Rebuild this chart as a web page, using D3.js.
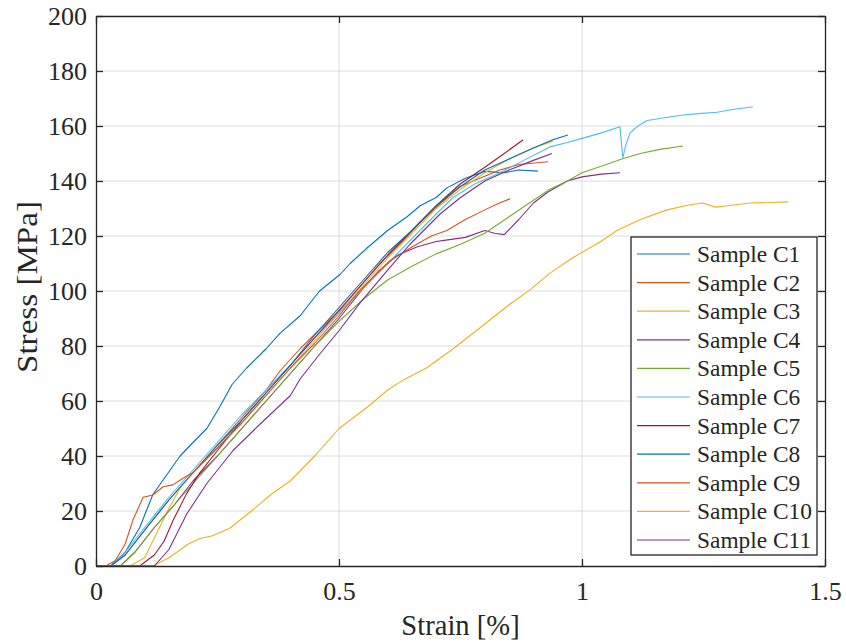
<!DOCTYPE html>
<html>
<head>
<meta charset="utf-8">
<script src="https://cdn.jsdelivr.net/npm/d3@7"></script>
<style>
html,body{margin:0;padding:0;background:#fff;}
svg{display:block;}
svg text{font-family:"Liberation Serif","Times New Roman",Times,"DejaVu Serif",serif;}
</style>
</head>
<body>
<svg id="chart" width="846" height="642"></svg>
<script>
// ---- Data (strain [%], stress [MPa]) ----
const seriesNames = ["Sample C1","Sample C2","Sample C3","Sample C4","Sample C5","Sample C6","Sample C7","Sample C8","Sample C9","Sample C10","Sample C11"];
const seriesColors = ["#0072BD","#D95319","#EDB120","#7E2F8E","#77AC30","#4DBEEE","#A2142F","#0072BD","#D95319","#EDB120","#7E2F8E"];

const c1 = [[0,0],[0.03,0],[0.06,5],[0.09,14],[0.117,26],[0.145,33],[0.173,40],[0.2,45],[0.228,50],[0.255,58],[0.28,66],[0.31,72],[0.35,79],[0.379,84.7],[0.42,91],[0.46,100],[0.502,106],[0.523,110],[0.56,116],[0.6,122],[0.64,127],[0.667,131],[0.7,134],[0.722,137.5],[0.76,141],[0.8,143.5],[0.84,143],[0.87,144],[0.909,143.6]];
const c2 = [[0,0],[0.03,0],[0.06,4],[0.1,13],[0.15,24],[0.2,34],[0.25,44],[0.3,54],[0.35,64],[0.379,71],[0.42,79],[0.46,86],[0.502,93],[0.55,103],[0.584,110],[0.63,118],[0.667,125],[0.71,132],[0.749,138],[0.79,141],[0.831,144],[0.87,146],[0.93,147]];
const c3 = [[0,0],[0.07,0],[0.1,3],[0.125,12],[0.15,21],[0.175,29],[0.2,34],[0.25,43],[0.3,52],[0.35,62],[0.4,72],[0.45,82],[0.5,92],[0.55,102],[0.6,112],[0.65,121],[0.7,130],[0.75,137],[0.8,143],[0.85,148],[0.9,152],[0.94,154.5]];
const c4 = [[0,0],[0.05,0],[0.08,5],[0.12,14],[0.16,22],[0.2,31],[0.25,40],[0.3,50],[0.35,60],[0.4,70],[0.45,80],[0.5,90],[0.55,101],[0.58,107],[0.62,113],[0.66,116],[0.7,118],[0.72,118.5],[0.76,119.5],[0.8,122],[0.82,121],[0.84,120.5],[0.87,126],[0.9,132],[0.93,136],[0.97,140],[1.0,141.5],[1.04,142.5],[1.078,143]];
const c5 = [[0,0],[0.05,0],[0.08,5],[0.12,14],[0.16,22],[0.2,30],[0.25,40],[0.3,50],[0.35,60],[0.4,70],[0.45,80],[0.5,89],[0.55,97],[0.6,104],[0.65,109],[0.7,113.5],[0.75,117],[0.8,121],[0.85,127],[0.9,133],[0.934,137],[0.97,140],[1.0,143],[1.05,146],[1.082,148],[1.12,150],[1.16,151.5],[1.208,152.7]];
const c6 = [[0,0],[0.03,0],[0.06,5],[0.1,14],[0.15,25],[0.2,35],[0.25,45],[0.3,55],[0.35,64],[0.4,73],[0.45,83],[0.5,92],[0.55,101],[0.6,110],[0.653,119.6],[0.7,128],[0.735,134],[0.78,139],[0.831,143],[0.88,147.5],[0.934,152.4],[0.97,154],[1.002,155.6],[1.04,157.5],[1.078,159.7],[1.081,154],[1.084,148.4],[1.09,153],[1.099,157.5],[1.115,160],[1.134,162],[1.17,163],[1.208,164],[1.24,164.5],[1.278,165],[1.31,166],[1.352,167]];
const c7 = [[0,0],[0.09,0],[0.12,4],[0.14,9],[0.159,16.7],[0.187,26.5],[0.214,34],[0.25,42],[0.3,53],[0.35,63],[0.4,73],[0.45,83],[0.5,93],[0.55,103],[0.6,113],[0.65,122],[0.7,131],[0.75,139],[0.8,145],[0.84,150],[0.879,155]];
const c8 = [[0,0],[0.03,0],[0.06,4],[0.1,13],[0.15,24],[0.2,34],[0.25,44],[0.3,53],[0.35,63],[0.4,73],[0.45,84],[0.5,94],[0.55,104],[0.6,114],[0.65,122],[0.7,131],[0.75,138],[0.8,144],[0.85,148],[0.9,152],[0.94,155],[0.971,156.7]];
const c9 = [[0,0],[0.02,0],[0.04,2],[0.06,8],[0.076,16.7],[0.097,25],[0.117,25.8],[0.138,28.8],[0.158,29.5],[0.18,32],[0.2,34],[0.25,43],[0.3,52],[0.35,62],[0.4,72],[0.45,81],[0.5,91],[0.537,99],[0.57,105],[0.605,111],[0.65,116],[0.69,120],[0.722,122],[0.76,126],[0.8,129.5],[0.83,132],[0.852,133.5]];
const c10 = [[0,0],[0.117,0],[0.15,3],[0.19,8],[0.214,10],[0.24,11],[0.276,13.8],[0.32,20],[0.36,26],[0.4,31],[0.45,40],[0.5,50],[0.56,58],[0.6,64],[0.632,67.6],[0.68,72],[0.735,79],[0.8,88],[0.85,95],[0.893,100.4],[0.934,106.5],[0.98,112],[1.037,117.8],[1.072,122],[1.12,126],[1.175,129.5],[1.22,131.3],[1.249,132],[1.274,130.5],[1.3,131],[1.346,132],[1.39,132.2],[1.424,132.4]];
const c11 = [[0,0],[0.12,0],[0.15,6],[0.187,19],[0.228,30],[0.282,42],[0.34,52],[0.4,62],[0.42,68],[0.46,77],[0.502,86],[0.543,95.6],[0.6,107.6],[0.646,117],[0.708,128],[0.75,134],[0.8,140],[0.85,144],[0.9,147.5],[0.938,150]];

const xTicks = [0, 0.5, 1, 1.5];
const xTickLabels = ["0", "0.5", "1", "1.5"];
const yTicks = [0,20,40,60,80,100,120,140,160,180,200];
const xLabel = "Strain [%]";
const yLabel = "Stress [MPa]";

const allSeries = [c1,c2,c3,c4,c5,c6,c7,c8,c9,c10,c11];

// ---- Layout ----
const svg = d3.select("#chart");
const L = 96, R = 825, T = 16, B = 566;
const axisColor = "#262626";
const font = '"Liberation Serif","Times New Roman",Times,"DejaVu Serif",serif';

const x = d3.scaleLinear().domain([0,1.5]).range([L,R]);
const y = d3.scaleLinear().domain([0,200]).range([B,T]);

// grid
const grid = svg.append("g");
grid.selectAll("line.gx").data(xTicks.slice(1,-1)).enter().append("line")
  .attr("x1", d=>x(d)).attr("x2", d=>x(d)).attr("y1", T).attr("y2", B)
  .attr("stroke", "#dcdcdc").attr("stroke-width", 1);
grid.selectAll("line.gy").data(yTicks.slice(1,-1)).enter().append("line")
  .attr("y1", d=>y(d)).attr("y2", d=>y(d)).attr("x1", L).attr("x2", R)
  .attr("stroke", "#dcdcdc").attr("stroke-width", 1);

// lines
const line = d3.line().x(d=>x(d[0])).y(d=>y(d[1]));
const clip = svg.append("clipPath").attr("id","clip").append("rect")
  .attr("x",L).attr("y",T).attr("width",R-L).attr("height",B-T);
const lines = svg.append("g").attr("clip-path","url(#clip)");
allSeries.forEach((s,i)=>{
  lines.append("path").datum(s).attr("d", line)
    .attr("fill","none").attr("stroke", seriesColors[i])
    .attr("stroke-width", 1.1).attr("stroke-linejoin","round");
});

// axes with d3 axis generators (ticks inward)
const xAxisB = d3.axisBottom(x).tickValues(xTicks).tickFormat((d,i)=>xTickLabels[i]).tickSizeInner(-7).tickSizeOuter(0).tickPadding(16);
const yAxisL = d3.axisLeft(y).tickValues(yTicks).tickSizeInner(-7).tickSizeOuter(0).tickPadding(9);
const xAxisT = d3.axisTop(x).tickValues(xTicks).tickFormat("").tickSizeInner(-7).tickSizeOuter(0);
const yAxisR = d3.axisRight(y).tickValues(yTicks).tickFormat("").tickSizeInner(-7).tickSizeOuter(0);

function styleAxis(g){
  g.attr("font-family", font).attr("font-size", 26);
  g.select(".domain").attr("stroke", axisColor).attr("stroke-width", 1.3);
  g.selectAll(".tick line").attr("stroke", axisColor).attr("stroke-width", 1.3);
  g.selectAll(".tick text").attr("fill", axisColor).attr("font-family", font).attr("font-size", 26);
}
svg.append("g").attr("transform",`translate(0,${B})`).call(xAxisB).call(styleAxis);
svg.append("g").attr("transform",`translate(${L},0)`).call(yAxisL).call(styleAxis);
svg.append("g").attr("transform",`translate(0,${T})`).call(xAxisT).call(styleAxis);
svg.append("g").attr("transform",`translate(${R},0)`).call(yAxisR).call(styleAxis);

// axis labels
svg.append("text").attr("x",(L+R)/2).attr("y",635).attr("text-anchor","middle")
  .attr("fill",axisColor).attr("font-family",font).attr("font-size",28.6).text(xLabel);
svg.append("text").attr("transform",`translate(37,287) rotate(-90)`).attr("text-anchor","middle")
  .attr("fill",axisColor).attr("font-family",font).attr("font-size",28.6)
  .attr("textLength",172).attr("lengthAdjust","spacingAndGlyphs").text(yLabel);

// legend
const lg = svg.append("g");
const lgX = 631, lgY = 237, lgW = 186, lgH = 318;
lg.append("rect").attr("x",lgX).attr("y",lgY).attr("width",lgW).attr("height",lgH)
  .attr("fill","#fff").attr("stroke",axisColor).attr("stroke-width",1.3);
const step = 28.6;
seriesNames.forEach((n,i)=>{
  const cy = 254 + i*step;
  lg.append("line").attr("x1",637).attr("x2",690).attr("y1",cy).attr("y2",cy)
    .attr("stroke",seriesColors[i]).attr("stroke-width",1.2);
  lg.append("text").attr("x",697).attr("y",cy+8).attr("fill",axisColor)
    .attr("font-family",font).attr("font-size",23.4).text(n);
});
</script>
</body>
</html>
